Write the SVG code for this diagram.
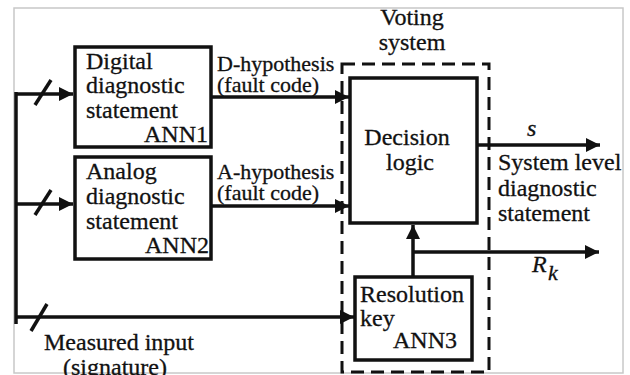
<svg xmlns="http://www.w3.org/2000/svg" width="630" height="375" viewBox="0 0 630 375">
<style>
text{font-family:'Liberation Serif','Times New Roman',serif;font-size:24px;fill:#111;stroke:#111;stroke-width:0.3}
.sm{font-size:22px}
.it{font-style:italic}
.box{fill:#fff;stroke:#111;stroke-width:3.5}
.ln{fill:none;stroke:#111;stroke-width:3.5}
.dash{fill:none;stroke:#111;stroke-width:3;stroke-dasharray:13 7}
</style>
<defs>
<marker id="ah" markerWidth="14" markerHeight="14" refX="12" refY="6" orient="auto" markerUnits="userSpaceOnUse" viewBox="0 0 12 12">
<path d="M0,0 L12,6 L0,12 Z" fill="#111"/>
</marker>
</defs>
<rect x="0" y="0" width="630" height="375" fill="#fff"/>
<rect x="14" y="8" width="609" height="365" fill="none" stroke="#c8c8c8" stroke-width="1.5"/>

<g id="connectors">
<path class="ln" d="M16,92 V324"/>
<path class="ln" d="M16,94 H73" marker-end="url(#ah)"/>
<path class="ln" d="M35,105 L51,80"/>
<path class="ln" d="M16,204 H73" marker-end="url(#ah)"/>
<path class="ln" d="M35,215 L51,190"/>
<path class="ln" d="M16,317 H354" marker-end="url(#ah)"/>
<path class="ln" d="M31,331 L47,304"/>
<path class="ln" d="M211,97 H349" marker-end="url(#ah)"/>
<path class="ln" d="M211,206 H349" marker-end="url(#ah)"/>
<path class="ln" d="M477,145 H600" marker-end="url(#ah)"/>
<path class="ln" d="M413,277 V225" marker-end="url(#ah)"/>
<path class="ln" d="M413,252 H599" marker-end="url(#ah)"/>
</g>

<g id="voting">
<rect class="dash" x="342" y="64" width="147" height="308"/>
<text x="412" y="25" text-anchor="middle">Voting</text>
<text x="412" y="50" text-anchor="middle">system</text>
</g>

<g id="ann1">
<rect class="box" x="75" y="47" width="136" height="100"/>
<text x="86" y="69">Digital</text>
<text x="86" y="93">diagnostic</text>
<text x="86" y="118">statement</text>
<text x="208" y="142" text-anchor="end">ANN1</text>
</g>

<g id="ann2">
<rect class="box" x="75" y="157" width="136" height="102"/>
<text x="86" y="179">Analog</text>
<text x="86" y="204">diagnostic</text>
<text x="86" y="229">statement</text>
<text x="209" y="253" text-anchor="end">ANN2</text>
</g>

<g id="decision">
<rect class="box" x="350" y="78" width="127" height="145"/>
<text x="407" y="145" text-anchor="middle">Decision</text>
<text x="410" y="170" text-anchor="middle">logic</text>
</g>

<g id="ann3">
<rect class="box" x="355" y="277" width="117" height="83"/>
<text x="360" y="302">Resolution</text>
<text x="360" y="326">key</text>
<text x="457" y="348" text-anchor="end">ANN3</text>
</g>

<g id="labels">
<text class="sm" x="217" y="71">D-hypothesis</text>
<text class="sm" x="217" y="92">(fault code)</text>
<text class="sm" x="217" y="179">A-hypothesis</text>
<text class="sm" x="217" y="200">(fault code)</text>
<text class="it" x="527" y="136">s</text>
<text x="498" y="170">System level</text>
<text x="498" y="196">diagnostic</text>
<text x="498" y="221">statement</text>
<text class="it" x="532" y="272">R</text>
<text class="it" x="548" y="280" style="font-size:22px">k</text>
<text x="44" y="350">Measured input</text>
<text x="63" y="375">(signature)</text>
</g>
</svg>
